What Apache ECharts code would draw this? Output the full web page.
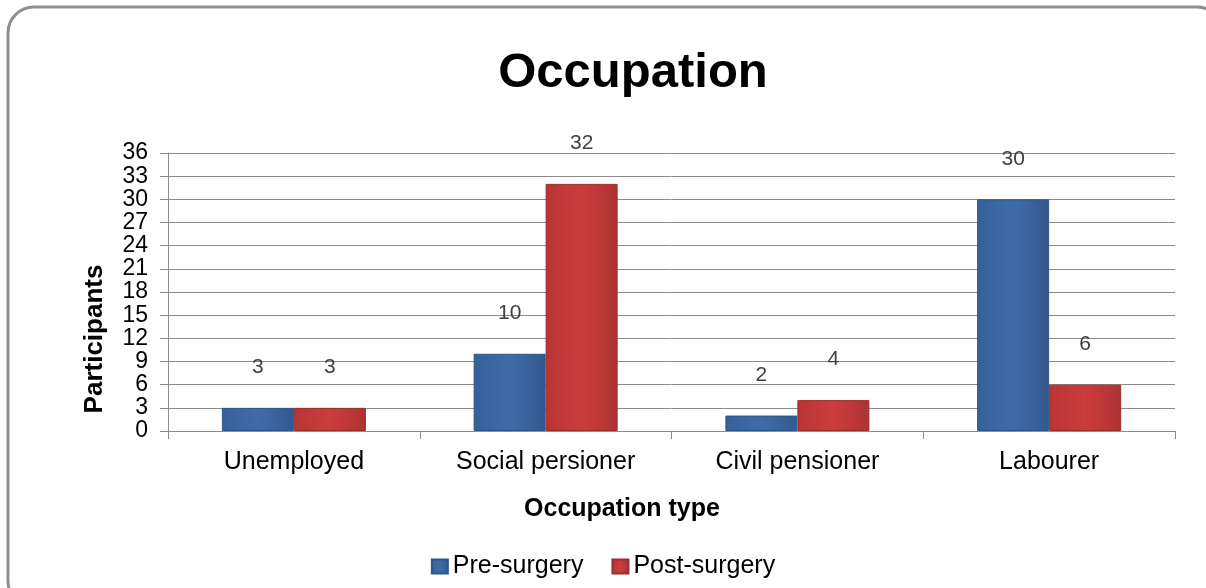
<!DOCTYPE html>
<html>
<head>
<meta charset="utf-8">
<script src="https://cdn.jsdelivr.net/npm/echarts@6/dist/echarts.min.js"></script>
<style>
html,body{margin:0;padding:0;background:#fff;}
#chart{width:1206px;height:588px;}
</style>
</head>
<body>
<div id="chart"></div>
<script>
const categories = ['Unemployed', 'Social persioner', 'Civil pensioner', 'Labourer'];
const preSurgery = [3, 10, 2, 30];
const postSurgery = [3, 32, 4, 6];
const seriesNames = ['Pre-surgery', 'Post-surgery'];
const titleText = 'Occupation';
const yAxisName = 'Participants';
const xAxisName = 'Occupation type';

const FONT = '"Liberation Sans", Arial, sans-serif';
const chart = echarts.init(document.getElementById('chart'));

function grad(left, mid, right) {
  return new echarts.graphic.LinearGradient(0, 0, 1, 0, [
    {offset: 0, color: left},
    {offset: 0.5, color: mid},
    {offset: 1, color: right}
  ]);
}

const labelCfg = {
  show: true, position: 'top', distance: 30,
  fontFamily: FONT, fontSize: 21, color: '#404040'
};

chart.setOption({
  backgroundColor: '#fff',
  animation: false,
  title: {
    text: titleText, left: 628, top: 44, textAlign: 'center',
    textStyle: {fontFamily: FONT, fontSize: 49, fontWeight: 'bold', color: '#000'}
  },
  legend: {
    bottom: 4, left: 'center',
    itemWidth: 16, itemHeight: 14, itemGap: 28, icon: 'rect',
    textStyle: {fontFamily: FONT, fontSize: 25, color: '#000'},
    data: seriesNames
  },
  grid: {left: 168, right: 31, top: 153, bottom: 157, containLabel: false},
  xAxis: {
    type: 'category', data: categories,
    axisLine: {show: true, lineStyle: {color: '#8c8c8c', width: 1}},
    axisTick: {show: true, length: 8, lineStyle: {color: '#8c8c8c'}},
    axisLabel: {fontFamily: FONT, fontSize: 25, color: '#000', margin: 19}
  },
  yAxis: {
    type: 'value', min: 0, max: 36, interval: 3,
    axisLine: {show: true, lineStyle: {color: '#8c8c8c', width: 1}},
    axisTick: {show: true, length: 8, lineStyle: {color: '#8c8c8c'}},
    splitLine: {lineStyle: {color: '#8c8c8c', width: 1}},
    axisLabel: {fontFamily: FONT, fontSize: 23, color: '#000', margin: 20,
      showMinLabel: true, showMaxLabel: true}
  },
  graphic: [
    {
      type: 'rect', silent: true, z: -1,
      shape: {x: 8, y: 7, width: 1215, height: 600, r: 26},
      style: {fill: '#fff', stroke: '#8f8f8f', lineWidth: 3}
    },
    {
      type: 'text', x: 95, y: 339, rotation: Math.PI / 2,
      style: {text: yAxisName, fontFamily: FONT, fontSize: 26, fontWeight: 'bold',
        fill: '#000', align: 'center', verticalAlign: 'middle'}
    },
    {
      type: 'text', x: 622, y: 509,
      style: {text: xAxisName, fontFamily: FONT, fontSize: 25, fontWeight: 'bold',
        fill: '#000', align: 'center', verticalAlign: 'middle'}
    }
  ],
  series: [
    {
      name: seriesNames[0], type: 'bar', data: preSurgery,
      barWidth: 72, barGap: '0%',
      itemStyle: {color: grad('#35609a', '#3f6ca8', '#33598e'), borderColor: '#2f5688', borderWidth: 1},
      label: labelCfg
    },
    {
      name: seriesNames[1], type: 'bar', data: postSurgery,
      barWidth: 72, barGap: '0%',
      itemStyle: {color: grad('#b83434', '#cc3d3d', '#ad3232'), borderColor: '#9c2d2d', borderWidth: 1},
      label: labelCfg
    }
  ]
});
</script>
</body>
</html>
